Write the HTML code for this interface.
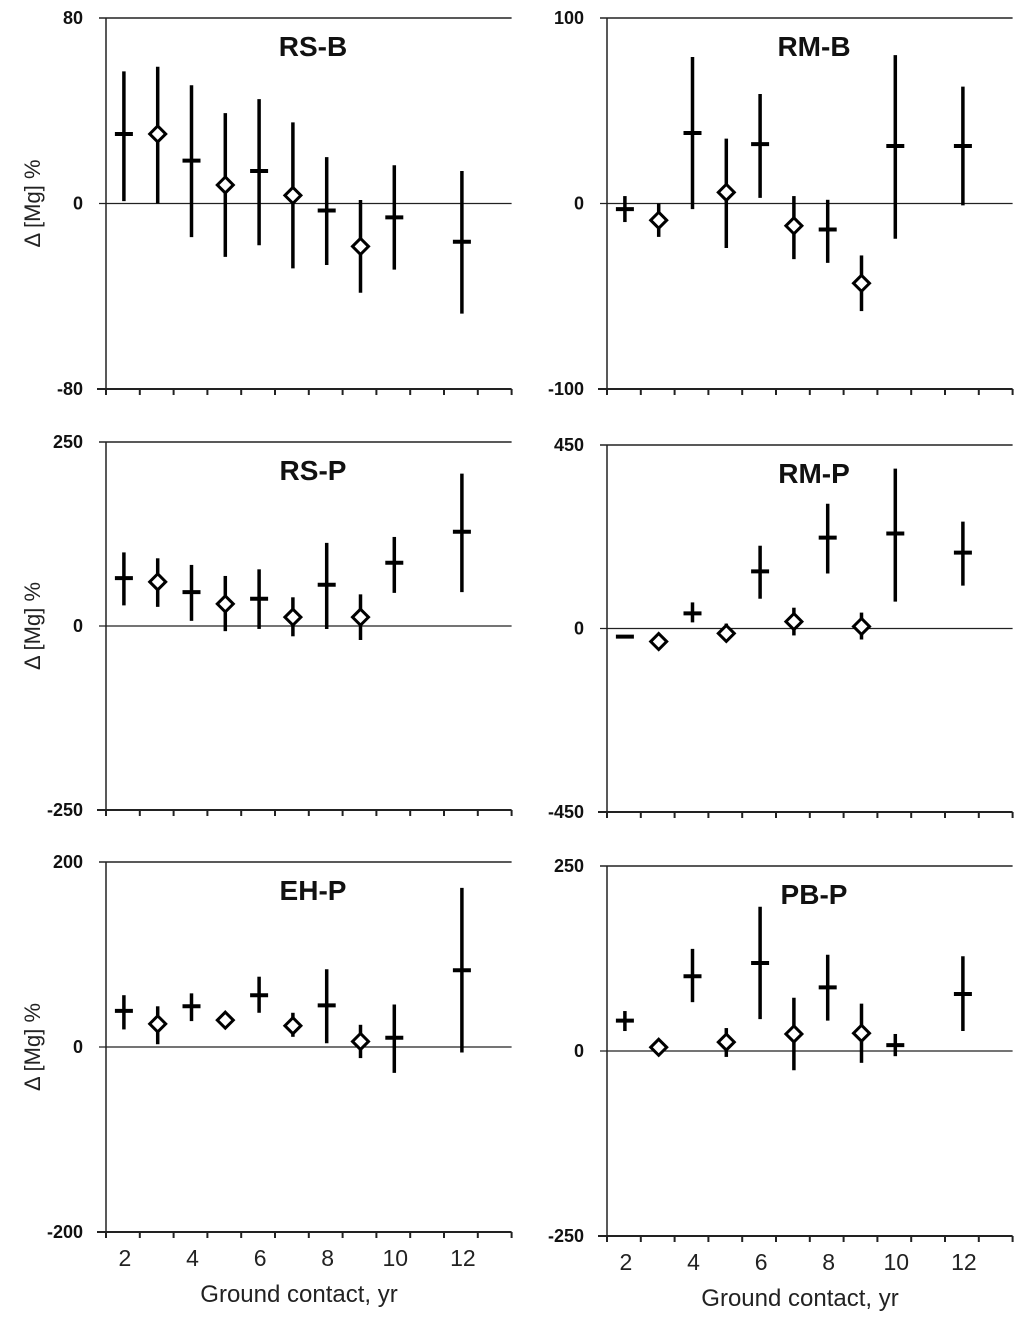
<!DOCTYPE html>
<html><head><meta charset="utf-8"><style>
body{margin:0;background:#fff}
svg{display:block;font-family:"Liberation Sans",Arial,sans-serif}
</style></head><body>
<svg id="c" width="1024" height="1325" viewBox="0 0 1024 1325"></svg>
<script>
// Shared categories (years)
const years = [2,3,4,5,6,7,8,9,10,12];
const markerTypes = ['+','d','+','d','+','d','+','d','+','+'];
const xTickLabels = [2,4,6,8,10,12];
// Panel data: means, lows, highs
const rsbMean=[30,30,18.5,8,14,3.5,-3,-18.5,-6,-16.5];
const rsbLow=[1,0,-14.5,-23,-18,-28,-26.5,-38.5,-28.5,-47.5];
const rsbHigh=[57,59,51,39,45,35,20,1.5,16.5,14];
const rmbMean=[-3,-9,38,6,32,-12,-14,-43,31,31];
const rmbLow=[-10,-18,-3,-24,3,-30,-32,-58,-19,-1];
const rmbHigh=[4,0,79,35,59,4,2,-28,80,63];
const rspMean=[65,60,46,30,37,12,56,12,86,128];
const rspLow=[28,26,7,-7,-4,-14,-4,-19,45,46];
const rspHigh=[100,92,83,68,77,39,113,43,121,207];
const rmpMean=[-20,-32,37,-12,140,17,223,5,233,186];
const rmpLow=[-23,-49,15,-32,73,-17,135,-27,66,105];
const rmpHigh=[-17,-15,64,12,203,51,306,39,392,262];
const ehpMean=[39,25,44,29,56,23,45,6,10,83];
const ehpLow=[19,3,28,22,37,11,4,-12,-28,-6];
const ehpHigh=[56,44,58,36,76,37,84,24,46,172];
const pbpMean=[41,5,101,12,119,23,86,24,8,77];
const pbpLow=[27,-1,66,-8,43,-26,41,-16,-7,27];
const pbpHigh=[54,12,138,31,195,72,130,64,23,128];

const panels=[
 {name:'RS-B',x0:106,top:18,bot:389,max:80,mean:rsbMean,lo:rsbLow,hi:rsbHigh,ytitle:true},
 {name:'RM-B',x0:607,top:18,bot:389,max:100,mean:rmbMean,lo:rmbLow,hi:rmbHigh},
 {name:'RS-P',x0:106,top:442,bot:810,max:250,mean:rspMean,lo:rspLow,hi:rspHigh,ytitle:true},
 {name:'RM-P',x0:607,top:445,bot:812,max:450,mean:rmpMean,lo:rmpLow,hi:rmpHigh},
 {name:'EH-P',x0:106,top:862,bot:1232,max:200,mean:ehpMean,lo:ehpLow,hi:ehpHigh,ytitle:true,xlab:true},
 {name:'PB-P',x0:607,top:866,bot:1236,max:250,mean:pbpMean,lo:pbpLow,hi:pbpHigh,xlab:true}
];
const NS='http://www.w3.org/2000/svg';
const svg=document.getElementById('c');
function mk(tag,attrs,parent){const e=document.createElementNS(NS,tag);for(const k in attrs)e.setAttribute(k,attrs[k]);(parent||svg).appendChild(e);return e;}
const SLOT=33.8;
panels.forEach((p,pi)=>{
  const g=mk('g',{});
  
  
  const x1=p.x0+SLOT*12;
  const y=v=>p.top+(p.max-v)/(2*p.max)*(p.bot-p.top);
  const x=yr=>p.x0+(yr-1.5)*SLOT;
  const y0=y(0);
  let e=mk('line',{x1:p.x0,y1:p.top,x2:p.x0,y2:p.bot,stroke:'#222','stroke-width':1.5},g);
  
  e=mk('line',{x1:p.x0-7,y1:p.top,x2:x1,y2:p.top,stroke:'#222','stroke-width':1.5},g);
  
  e=mk('line',{x1:p.x0-7,y1:y0,x2:x1,y2:y0,stroke:'#222','stroke-width':1.2},g);
  
  e=mk('line',{x1:p.x0-9,y1:p.bot,x2:x1,y2:p.bot,stroke:'#222','stroke-width':2},g);
  
  for(let i=0;i<=12;i++){
    e=mk('line',{x1:p.x0+i*SLOT,y1:p.bot,x2:p.x0+i*SLOT,y2:p.bot+6,stroke:'#222','stroke-width':2},g);
    
  }
  [p.max,0,-p.max].forEach(v=>{
    const t=mk('text',{x:p.x0-23,y:y(v)+6,'text-anchor':'end','font-size':18,'font-weight':'bold',fill:'#111'},g);
    t.textContent=v;
    
  });
  const tt=mk('text',{x:p.x0+207,y:p.top+38,'text-anchor':'middle','font-size':28,'font-weight':'bold',fill:'#111'},g);
  tt.textContent=p.name;
  
  if(p.ytitle){
    const yt=mk('text',{x:0,y:0,transform:`translate(40,${y0}) rotate(-90)`,'text-anchor':'middle','font-size':22,fill:'#222'},g);
    yt.textContent='Δ [Mg] %';
    
  }
  if(p.xlab){
    xTickLabels.forEach(l=>{
      const t=mk('text',{x:x(l)+2,y:p.bot+34,'text-anchor':'middle','font-size':23,fill:'#222'},g);
      t.textContent=l;
      
    });
    const xt=mk('text',{x:p.x0+193,y:p.bot+70,'text-anchor':'middle','font-size':24,fill:'#222'},g);
    xt.textContent='Ground contact, yr';
    
  }
  years.forEach((yr,i)=>{
    const xc=x(yr)+1;
    const yc=y(p.mean[i]);
    const l=mk('line',{x1:xc,y1:y(p.hi[i]),x2:xc,y2:y(p.lo[i]),stroke:'#000','stroke-width':3.5},g);
    
    if(markerTypes[i]==='+'){
      const m=mk('line',{x1:xc-9,y1:yc,x2:xc+9,y2:yc,stroke:'#000','stroke-width':4},g);
      
    } else {
      const m=mk('polygon',{points:`${xc},${yc-8} ${xc+8},${yc} ${xc},${yc+8} ${xc-8},${yc}`,fill:'#fff',stroke:'#000','stroke-width':3},g);
      
    }
  });
});
</script>
</body></html>
